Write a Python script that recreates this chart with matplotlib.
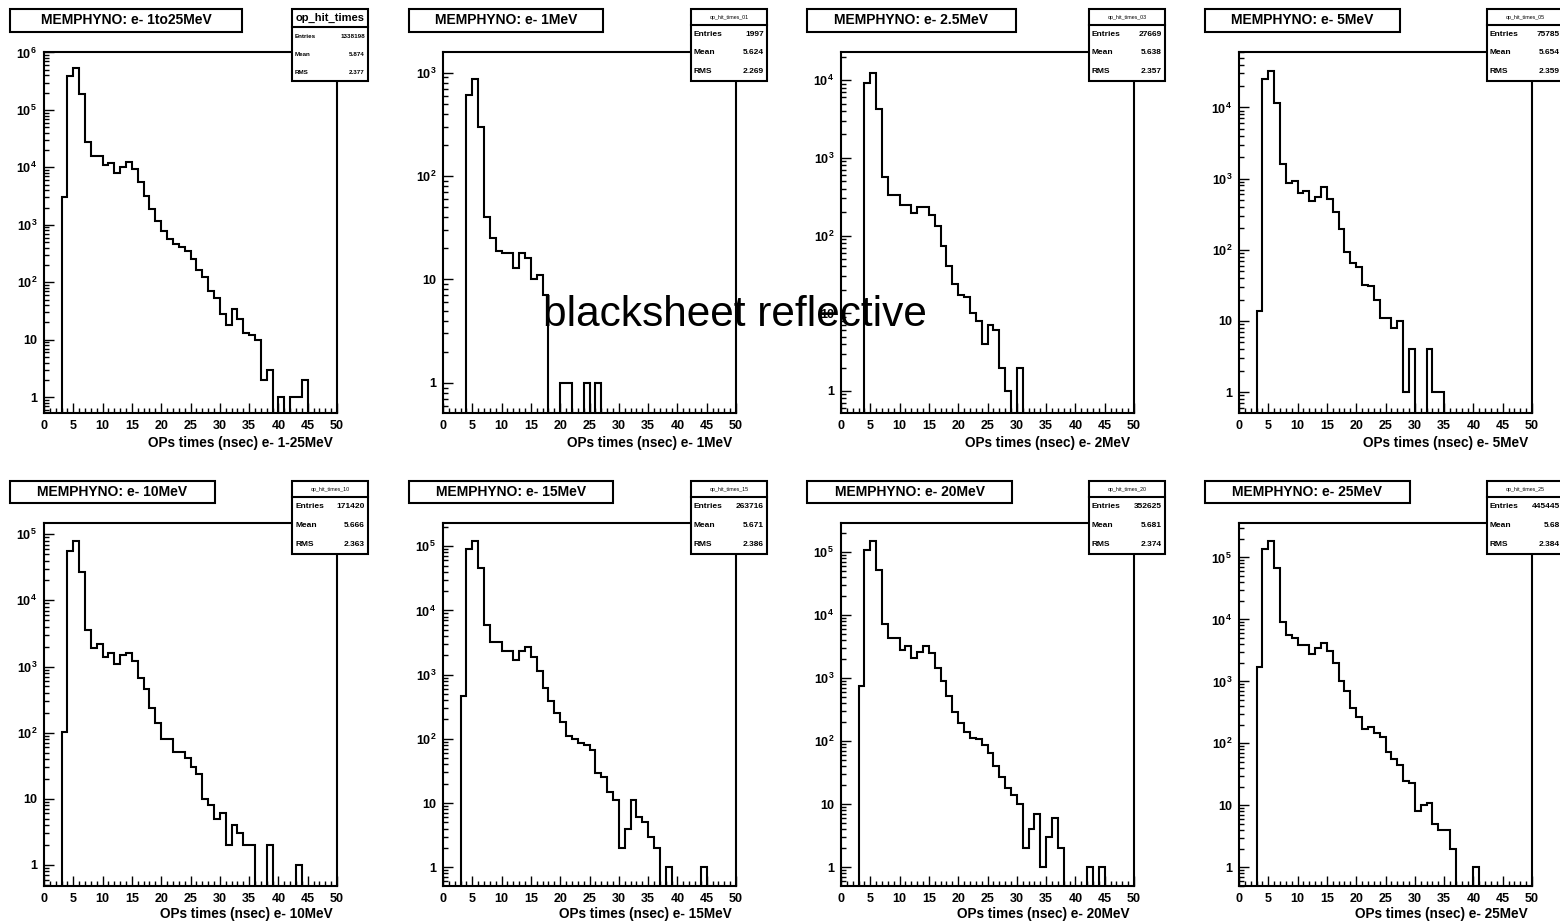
import numpy as np
import matplotlib
matplotlib.use('Agg')
import matplotlib.pyplot as plt
from matplotlib.patches import Rectangle
from matplotlib.lines import Line2D
from matplotlib.ticker import LogLocator, MultipleLocator, FuncFormatter, NullFormatter

W, H = 1560, 923
plt.rcParams['font.family'] = ['Liberation Sans', 'DejaVu Sans']
plt.rcParams['mathtext.fontset'] = 'custom'
plt.rcParams['mathtext.rm'] = 'Liberation Sans:bold'
plt.rcParams['mathtext.bf'] = 'Liberation Sans:bold'
plt.rcParams['mathtext.it'] = 'Liberation Sans:bold'

# ---------------- data ----------------
bin_edges = np.arange(0, 51, 1)

titles = ["MEMPHYNO: e- 1to25MeV", "MEMPHYNO: e- 1MeV", "MEMPHYNO: e- 2.5MeV", "MEMPHYNO: e- 5MeV",
          "MEMPHYNO: e- 10MeV", "MEMPHYNO: e- 15MeV", "MEMPHYNO: e- 20MeV", "MEMPHYNO: e- 25MeV"]
xlabels = ["OPs times (nsec) e- 1-25MeV", "OPs times (nsec) e- 1MeV", "OPs times (nsec) e- 2MeV",
           "OPs times (nsec) e- 5MeV", "OPs times (nsec) e- 10MeV", "OPs times (nsec) e- 15MeV",
           "OPs times (nsec) e- 20MeV", "OPs times (nsec) e- 25MeV"]
stat_names = ["op_hit_times", "op_hit_times_01", "op_hit_times_03", "op_hit_times_05",
              "op_hit_times_10", "op_hit_times_15", "op_hit_times_20", "op_hit_times_25"]
entries = ["1338198", "1997", "27669", "75785", "171420", "263716", "352625", "445445"]
means = ["5.874", "5.624", "5.638", "5.654", "5.666", "5.671", "5.681", "5.68"]
rmss = ["2.377", "2.269", "2.357", "2.359", "2.363", "2.386", "2.374", "2.384"]

counts_1to25 = [0, 0, 0, 3000, 390000, 540000, 190000, 28000, 16000, 16000,
                11000, 11700, 8100, 10000, 12500, 9300, 5600, 3200, 1860, 1150,
                780, 565, 470, 405, 350, 250, 166, 124, 70, 54,
                28, 18, 34, 23, 13, 12, 10, 2, 3, 0,
                1, 0, 1, 1, 2, 0, 0, 0, 0, 0]
counts_1 = [0, 0, 0, 0, 605, 866, 300, 40, 25, 19,
            18, 18, 13, 18, 16, 10, 11, 7, 0, 0,
            1, 1, 0, 0, 1, 0, 1, 0, 0, 0,
            0, 0, 0, 0, 0, 0, 0, 0, 0, 0,
            0, 0, 0, 0, 0, 0, 0, 0, 0, 0]
counts_2p5 = [0, 0, 0, 0, 9100, 12300, 4300, 570, 330, 330,
              246, 246, 194, 230, 230, 184, 131, 74, 40, 24,
              17, 16, 10, 8, 4, 7, 6, 2, 1, 0,
              2, 0, 0, 0, 0, 0, 0, 0, 0, 0,
              0, 0, 0, 0, 0, 0, 0, 0, 0, 0]
counts_5 = [0, 0, 0, 14, 25000, 32500, 11400, 1600, 860, 935,
            620, 675, 485, 550, 770, 518, 335, 196, 92, 66,
            58, 32, 31, 20, 11, 11, 8, 10, 1, 4,
            0, 0, 4, 1, 1, 0, 0, 0, 0, 0,
            0, 0, 0, 0, 0, 0, 0, 0, 0, 0]
counts_10 = [0, 0, 0, 103, 56000, 78000, 27000, 3600, 1900, 2200,
             1370, 1580, 1100, 1500, 1580, 1200, 680, 450, 240, 138,
             79, 79, 51, 51, 42, 30, 24, 10, 8, 5,
             6, 2, 4, 3, 2, 2, 0, 0, 2, 0,
             0, 0, 0, 1, 0, 0, 0, 0, 0, 0]
counts_15 = [0, 0, 0, 470, 89000, 120000, 45000, 5900, 3200, 3200,
             2300, 2300, 1700, 2350, 2650, 1850, 1130, 610, 392, 250,
             185, 110, 98, 85, 80, 68, 29, 25, 15, 11,
             2, 4, 11, 6, 5, 3, 2, 0, 1, 0,
             0, 0, 0, 0, 1, 0, 0, 0, 0, 0]
counts_20 = [0, 0, 0, 755, 110000, 148000, 53000, 7300, 4400, 4400,
             2800, 3300, 2100, 2600, 3300, 2500, 1450, 890, 525, 292,
             192, 141, 114, 107, 87, 64, 41, 27, 18, 14,
             10, 2, 4, 7, 1, 3, 6, 2, 0, 0,
             0, 0, 1, 0, 1, 0, 0, 0, 0, 0]
counts_25 = [0, 0, 0, 1700, 135000, 183000, 68000, 9200, 5600, 5100,
             3900, 3900, 2800, 3500, 4100, 3100, 1950, 1000, 710, 375,
             263, 168, 185, 145, 125, 73, 55, 45, 25, 23,
             8, 10, 11, 5, 4, 4, 2, 0, 0, 0,
             1, 0, 0, 0, 0, 0, 0, 0, 0, 0]

all_counts = [counts_1to25, counts_1, counts_2p5, counts_5,
              counts_10, counts_15, counts_20, counts_25]

# ---------------- layout ----------------
frame_left = [44, 443, 841, 1239]
frame_w = 293
row_frame = [(52, 413), (523, 886)]
row_title = [(9, 32), (481, 503)]
row_stat = [(9, 81), (481, 554)]
row_xlabel_y = [443, 914]
title_w = [232, 194, 209, 195, 205, 204, 205, 205]
ylims = [(0.53, 1.02e6), (0.51, 1585), (0.52, 2.3e4), (0.51, 6.0e4),
         (0.48, 1.48e5), (0.51, 2.3e5), (0.506, 2.9e5), (0.5, 3.6e5)]

fig = plt.figure(figsize=(W / 100, H / 100), dpi=100)
fig.patch.set_facecolor('white')


def fx(px):
    return px / W


def fy(py):
    return 1 - py / H


def ylab(v, pos):
    e = int(round(np.log10(v)))
    if e == 0:
        return '1'
    if e == 1:
        return '10'
    return r'$10^{%d}$' % e


for i in range(8):
    r, c = divmod(i, 4)
    L = frame_left[c]
    T, B = row_frame[r]
    ax = fig.add_axes([fx(L), fy(B), frame_w / W, (B - T) / H])
    vals = np.asarray(all_counts[i], dtype=float)
    plot_vals = np.where(vals > 0, vals, 1e-3)
    ax.stairs(plot_vals, bin_edges, baseline=None, color='black', linewidth=1.5)
    ax.set_yscale('log')
    ax.set_xlim(0, 50)
    ax.set_ylim(*ylims[i])
    for s in ax.spines.values():
        s.set_linewidth(1.5)
    ax.xaxis.set_major_locator(MultipleLocator(5))
    ax.xaxis.set_minor_locator(MultipleLocator(1))
    ax.yaxis.set_major_locator(LogLocator(base=10, numticks=20))
    ax.yaxis.set_minor_locator(LogLocator(base=10, subs=np.arange(2, 10), numticks=20))
    ax.yaxis.set_major_formatter(FuncFormatter(ylab))
    ax.yaxis.set_minor_formatter(NullFormatter())
    ax.tick_params(which='both', direction='in', top=False, right=False, width=1.0)
    ax.tick_params(which='major', length=7, labelsize=9, pad=5)
    ax.tick_params(which='minor', length=3.5)
    for lab in ax.get_xticklabels() + ax.get_yticklabels():
        lab.set_fontweight('bold')

    # x label, right aligned to frame
    fig.text(fx(L + frame_w - 4), fy(row_xlabel_y[r]), xlabels[i], ha='right', va='center',
             fontsize=9.8, fontweight='bold')

    # title box
    tT, tB = row_title[r]
    tl = L - 34
    fig.add_artist(Rectangle((fx(tl), fy(tB)), title_w[i] / W, (tB - tT) / H,
                             transform=fig.transFigure, facecolor='white',
                             edgecolor='black', linewidth=1.5, zorder=5))
    fig.text(fx(tl + title_w[i] / 2), fy((tT + tB) / 2), titles[i], ha='center', va='center',
             fontsize=10, fontweight='bold', zorder=6)

    # stat box
    sT, sB = row_stat[r]
    sl = L + frame_w - 45
    sw = 76
    fig.add_artist(Rectangle((fx(sl), fy(sB)), sw / W, (sB - sT) / H,
                             transform=fig.transFigure, facecolor='white',
                             edgecolor='black', linewidth=1.5, zorder=5))
    div = sT + (18 if i == 0 else 16)
    fig.add_artist(Line2D([fx(sl), fx(sl + sw)], [fy(div), fy(div)],
                          transform=fig.transFigure, color='black', linewidth=1.5, zorder=6))
    if i == 0:
        fig.text(fx(sl + sw / 2), fy((sT + div) / 2), stat_names[i], ha='center', va='center',
                 fontsize=8, fontweight='bold', zorder=7)
    else:
        fig.text(fx(sl + sw / 2), fy((sT + div) / 2), stat_names[i], ha='center', va='center',
                 fontsize=3.8, zorder=7)
    rowh = (sB - div) / 3
    fs = 4.5 if i == 0 else 6
    for k, (lab, val) in enumerate([("Entries", entries[i]), ("Mean", means[i]), ("RMS", rmss[i])]):
        yc = div + rowh * (k + 0.5)
        fig.text(fx(sl + 3), fy(yc), lab, ha='left', va='center', fontsize=fs,
                 fontweight='bold', zorder=7)
        fig.text(fx(sl + sw - 3), fy(yc), val, ha='right', va='center', fontsize=fs,
                 fontweight='bold', zorder=7)

fig.text(fx(543), fy(326), "blacksheet reflective", ha='left', va='baseline',
         fontsize=30.5, zorder=10)

fig.savefig('out.png', dpi=100, facecolor='white')
